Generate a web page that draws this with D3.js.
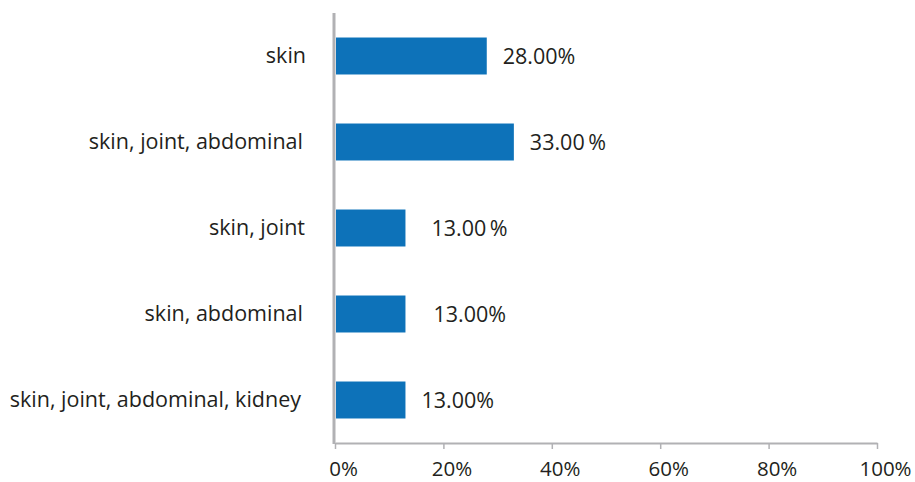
<!DOCTYPE html>
<html>
<head>
<meta charset="utf-8">
<script src="https://cdn.jsdelivr.net/npm/d3@7"></script>
<style>
  html, body { margin: 0; padding: 0; background: #fff; }
  svg text { font-family: "Open Sans", "Noto Sans", sans-serif; fill: #231f20; }
</style>
</head>
<body>
<svg id="chart" width="915" height="482"></svg>
<script>
// Symptom combinations and their share of cases
const categories = [
  "skin",
  "skin, joint, abdominal",
  "skin, joint",
  "skin, abdominal",
  "skin, joint, abdominal, kidney"
];
const shares = [28, 33, 13, 13, 13];
const valueLabels = ["28.00%", "33.00\u2009%", "13.00\u2009%", "13.00%", "13.00%"];
const tickValues = [0, 20, 40, 60, 80, 100];

// Layout
const margin = { left: 335, right: 38, top: 13, bottom: 39 };
const W = 915, H = 482;
const labelNudge = [0, 0, 10, 12, 0];
const catNudge = [3, 0, 2, 0, -2];

const svg = d3.select("#chart");

const x = d3.scaleLinear()
  .domain([0, 100])
  .range([margin.left, W - margin.right]);

const y = d3.scaleBand()
  .domain(categories)
  .range([margin.top, H - margin.bottom])
  .paddingInner(0.57)
  .paddingOuter(0.285);

// Bars
svg.selectAll("rect.bar")
  .data(categories)
  .join("rect")
  .attr("class", "bar")
  .attr("x", x(0) + 1)
  .attr("y", d => y(d))
  .attr("width", (d, i) => x(shares[i]) - x(0) - 1)
  .attr("height", y.bandwidth())
  .attr("fill", "#0d72b9");

// Value labels
svg.selectAll("text.value")
  .data(categories)
  .join("text")
  .attr("class", "value")
  .attr("x", (d, i) => x(shares[i]) + 16 + labelNudge[i])
  .attr("y", d => y(d) + y.bandwidth() / 2)
  .attr("dy", "0.36em")
  .attr("font-size", 21.5)
  .text((d, i) => valueLabels[i]);

// Category labels
svg.selectAll("text.cat")
  .data(categories)
  .join("text")
  .attr("class", "cat")
  .attr("x", (d, i) => x(0) - 32 + catNudge[i])
  .attr("y", d => y(d) + y.bandwidth() / 2)
  .attr("dy", "0.32em")
  .attr("text-anchor", "end")
  .attr("font-size", 21.5)
  .text(d => d);

// Vertical axis line
svg.append("line")
  .attr("x1", x(0) - 1).attr("x2", x(0) - 1)
  .attr("y1", margin.top).attr("y2", H - margin.bottom + 1)
  .attr("stroke", "#b1b1b4")
  .attr("stroke-width", 3);

// Horizontal axis
const xAxis = d3.axisBottom(x)
  .tickValues(tickValues)
  .tickFormat(d => d + "%")
  .tickSize(6)
  .tickSizeOuter(0)
  .tickPadding(12.5);

const gx = svg.append("g")
  .attr("transform", `translate(0,${H - margin.bottom})`)
  .call(xAxis);

gx.select(".domain")
  .attr("stroke", "#b1b1b4")
  .attr("stroke-width", 2);
gx.selectAll(".tick line")
  .attr("stroke", "#b1b1b4")
  .attr("stroke-width", 1.5);
gx.selectAll(".tick text")
  .attr("font-size", 20.5)
  .attr("dx", 8)
  .attr("fill", "#231f20")
  .style("font-family", "\"Open Sans\", \"Noto Sans\", sans-serif");
</script>
</body>
</html>
